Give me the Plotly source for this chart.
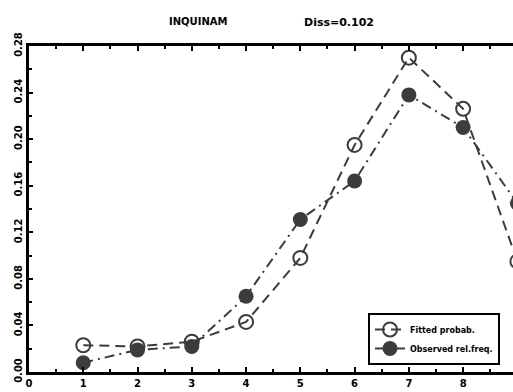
import plotly.graph_objects as go

x_vals = [1, 2, 3, 4, 5, 6, 7, 8, 9]
fitted = [0.023, 0.022, 0.026, 0.043, 0.098, 0.195, 0.270, 0.226, 0.095]
observed = [0.008, 0.019, 0.022, 0.065, 0.131, 0.164, 0.238, 0.210, 0.145]
y_ticks = [0.00, 0.04, 0.08, 0.12, 0.16, 0.20, 0.24, 0.28]
x_ticks = [0, 1, 2, 3, 4, 5, 6, 7, 8]
title_left = "INQUINAM"
title_right = "Diss=0.102"

C = "#3c3c3c"
FONT = "DejaVu Sans"

fig = go.Figure()
fig.add_trace(go.Scatter(
    x=x_vals, y=fitted, mode="lines+markers", name="Fitted probab.",
    line=dict(color=C, width=2, dash="10px,6px"),
    marker=dict(symbol="circle-open", size=14, color=C, line=dict(width=2, color=C)),
))
fig.add_trace(go.Scatter(
    x=x_vals, y=observed, mode="lines+markers", name="Observed rel.freq.",
    line=dict(color=C, width=2, dash="10px,5px,2px,5px"),
    marker=dict(symbol="circle", size=15, color=C),
))

fig.update_layout(
    width=513, height=392,
    margin=dict(l=29, r=0, t=46, b=20),
    paper_bgcolor="white", plot_bgcolor="white",
    font=dict(family=FONT, color="black"),
    showlegend=True,
    legend=dict(
        x=(368 - 29) / 484, y=(372 - 339) / 326, xanchor="left", yanchor="middle",
        bordercolor="black", borderwidth=2, bgcolor="white",
        font=dict(size=8, family=FONT, weight="bold"),
        tracegroupgap=0, itemwidth=30,
    ),
    annotations=[
        dict(text=title_left, x=(198 - 29) / 484, y=(372 - 14) / 326, xref="paper", yref="paper",
             showarrow=False, font=dict(size=10, family=FONT, weight="bold")),
        dict(text=title_right, x=(302 - 29) / 484, y=(372 - 14) / 326, xref="paper", yref="paper",
             xanchor="left",
             showarrow=False, font=dict(size=11, family=FONT, weight="bold")),
    ],
)
fig.update_xaxes(
    range=[0, (513 - 28.7) / 54.3],
    tickvals=x_ticks, ticktext=[str(v) for v in x_ticks],
    ticks="inside", ticklen=5, tickwidth=2, tickcolor="black",
    minor=dict(dtick=0.5, tick0=0, ticks="inside", ticklen=3, tickwidth=2, tickcolor="black"),
    showline=True, linewidth=2.5, linecolor="black", mirror="ticks",
    showgrid=False, zeroline=False,
    tickfont=dict(size=10, family=FONT, weight="bold"),
)
fig.update_yaxes(
    range=[0, 0.28],
    tickvals=y_ticks, ticktext=[f"{v:.2f}" for v in y_ticks],
    tickangle=-90,
    ticks="inside", ticklen=4, tickwidth=2, tickcolor="black",
    minor=dict(dtick=0.02, tick0=0, ticks="inside", ticklen=3, tickwidth=2, tickcolor="black"),
    showline=True, linewidth=2.5, linecolor="black",
    showgrid=False, zeroline=False,
    tickfont=dict(size=10, family=FONT, weight="bold"),
)

fig.write_html(
    "out.html",
    config={"displayModeBar": False},
    post_script="document.body.style.margin='0';document.body.style.overflow='hidden';",
)
